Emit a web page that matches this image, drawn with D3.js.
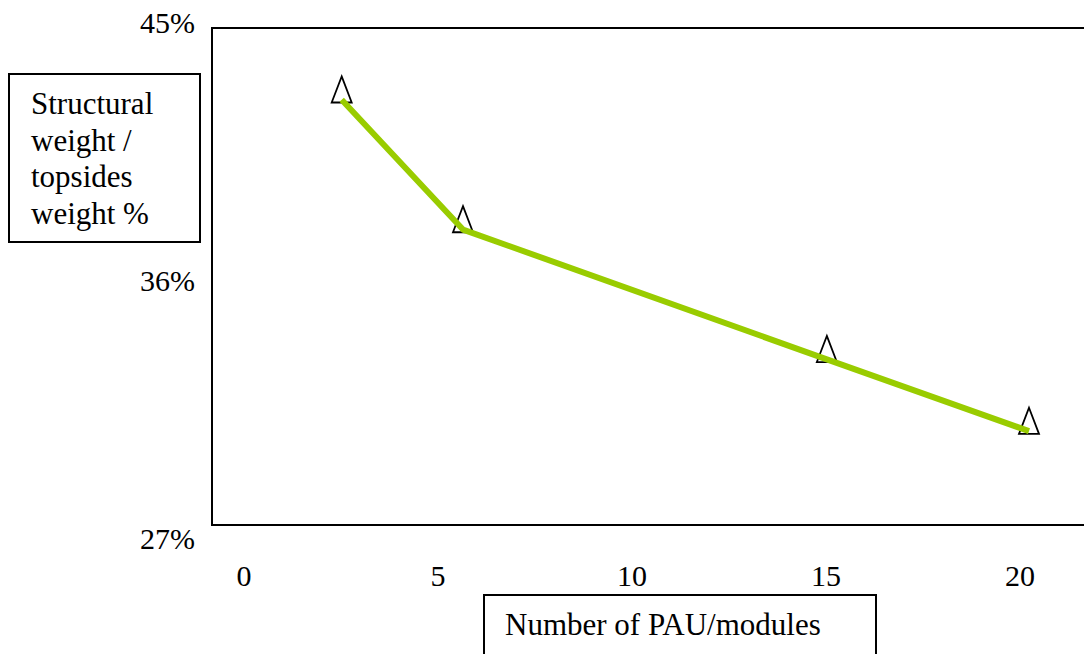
<!DOCTYPE html>
<html>
<head>
<meta charset="utf-8">
<script src="https://cdn.jsdelivr.net/npm/d3@7"></script>
<style>
  body { margin: 0; background: #fff; }
</style>
</head>
<body>
<svg id="chart" width="1084" height="654"></svg>
<script>
// data
var modules = [3, 6, 15, 20]
var structuralShare = [42.4, 37.7, 33.0, 30.4]
var xTicks = [0, 5, 10, 15, 20]
var yTicks = [27, 36, 45]
var yTitleLines = ["Structural", "weight /", "topsides", "weight %"]
var xTitle = "Number of PAU/modules"

var data = modules.map(function(m, i){ return {x: m, y: structuralShare[i]} })

var serif = "'Liberation Serif', 'Times New Roman', Times, serif"

var dims = {
    width: 1084,
    height: 654,
    plot: {left: 212, top: 28, right: 1100, bottom: 525}
}

var svg = d3.select("#chart")

// plot scales (marks)
var xScale = d3.scaleLinear().domain([0, 20]).range([220.4, 1029])
var yScale = d3.scaleLinear().domain([27, 45]).range([dims.plot.bottom, dims.plot.top])

// tick label scales - labels sit a bit off the frame in the original
var xLabelScale = d3.scaleLinear().domain([0, 20]).range([244, 1020])
var yLabelScale = d3.scaleLinear().domain([27, 45]).range([549, 33])

// plot frame
svg.append("rect")
    .attr("x", dims.plot.left)
    .attr("y", dims.plot.top)
    .attr("width", dims.plot.right - dims.plot.left)
    .attr("height", dims.plot.bottom - dims.plot.top)
    .attr("fill", "none")
    .attr("stroke", "#000")
    .attr("stroke-width", 2)

// y tick labels
svg.append("g").selectAll("text")
    .data(yTicks)
    .enter()
    .append("text")
    .attr("x", 195)
    .attr("y", function(d){ return yLabelScale(d) })
    .attr("text-anchor", "end")
    .style("font-family", serif)
    .style("font-size", "30px")
    .text(function(d){ return d + "%" })

// x tick labels
svg.append("g").selectAll("text")
    .data(xTicks)
    .enter()
    .append("text")
    .attr("x", function(d){ return xLabelScale(d) })
    .attr("y", 586)
    .attr("text-anchor", "middle")
    .style("font-family", serif)
    .style("font-size", "30px")
    .text(function(d){ return d })

// markers (open triangles sitting just above each point)
var tri = d3.symbol().type(d3.symbolTriangle).size(240)
svg.append("g").selectAll("path")
    .data(data)
    .enter()
    .append("path")
    .attr("d", tri)
    .attr("transform", function(d){
        return "translate(" + xScale(d.x) + "," + (yScale(d.y) - 6) + ") scale(0.85,1.28)"
    })
    .attr("fill", "none")
    .attr("stroke", "#000")
    .attr("stroke-width", 1.8)
    .attr("vector-effect", "non-scaling-stroke")

// line on top
var line = d3.line()
    .x(function(d){ return xScale(d.x) })
    .y(function(d){ return yScale(d.y) })

svg.append("path")
    .datum(data)
    .attr("d", line)
    .attr("fill", "none")
    .attr("stroke", "#99cc00")
    .attr("stroke-width", 6)
    .attr("stroke-linejoin", "round")

// y title box
svg.append("rect")
    .attr("x", 9).attr("y", 74)
    .attr("width", 191).attr("height", 168)
    .attr("fill", "#fff")
    .attr("stroke", "#000")
    .attr("stroke-width", 2)

svg.append("g").selectAll("text")
    .data(yTitleLines)
    .enter()
    .append("text")
    .attr("x", 31)
    .attr("y", function(d, i){ return 114 + i * 36.6 })
    .style("font-family", serif)
    .style("font-size", "31px")
    .text(function(d){ return d })

// x title box
svg.append("rect")
    .attr("x", 484).attr("y", 595)
    .attr("width", 392).attr("height", 80)
    .attr("fill", "#fff")
    .attr("stroke", "#000")
    .attr("stroke-width", 2)

svg.append("text")
    .attr("x", 505)
    .attr("y", 635)
    .style("font-family", serif)
    .style("font-size", "31px")
    .text(xTitle)
</script>
</body>
</html>
